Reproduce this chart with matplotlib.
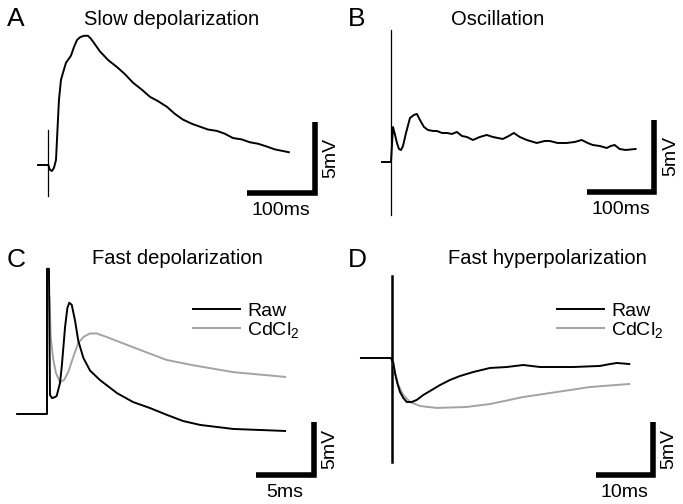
import matplotlib
matplotlib.use("Agg")
import matplotlib.pyplot as plt
import numpy as np

plt.rcParams['font.family'] = ['Liberation Sans', 'DejaVu Sans']
plt.rcParams['mathtext.fontset'] = 'custom'
plt.rcParams['mathtext.rm'] = 'Liberation Sans'
plt.rcParams['mathtext.default'] = 'rm'

# --- data (time in ms, membrane potential in mV, 0 = stimulus / baseline) ---
a_t = [-15.2, -3.4, 0, 2.5, 5.5, 8.4, 11.4, 13.6, 15.8, 18.8, 21.8, 26.2, 30.6, 33.6,
       38, 42.5, 47, 53, 58.8, 63, 67.6, 76.5, 88.4, 101.7, 113.5, 125.4, 138.7, 150.6,
       162.4, 175.7, 187.5, 199.4, 212.8, 224.6, 236.4, 249.8, 261.6, 273.5, 286.8,
       298.6, 310.5, 323.8, 335.6, 356.4]
a_v = [0, 0, 0, -0.35, -0.42, -0.2, 0.35, 2.5, 4.6, 6.0, 6.5, 7.2, 7.5, 7.7,
       8.3, 8.8, 9.0, 9.1, 9.1, 8.9, 8.6, 8.0, 7.4, 6.9, 6.4, 5.8, 5.3, 4.8,
       4.5, 4.1, 3.6, 3.2, 2.9, 2.7, 2.5, 2.4, 2.2, 1.9, 1.8,
       1.6, 1.5, 1.3, 1.1, 0.9]
a_artifact = [2.46, -2.18]

b_t = [-13.4, -1.5, 0, 3.0, 6.0, 8.9, 11.9, 14.9, 17.9, 22.4, 28.3, 34.3, 38.7, 43.2,
       49.2, 55.1, 62.6, 68.5, 76, 83.4, 90.9, 98.3, 105.8, 113.2, 122.2, 132.6, 142.9,
       152, 166.9, 175.8, 183.3, 192.2, 202.6, 217.5, 229.5, 236.9, 248.8, 262.2, 274.2,
       284.6, 293.5, 301, 311.5, 322, 328, 333.8, 341.2, 350, 365]
b_v = [0, 0, 0, 2.45, 1.9, 1.33, 0.91, 0.84, 1.12, 2.03, 3.08, 3.29, 3.36, 2.94,
       2.45, 2.24, 2.17, 2.17, 2.03, 2.03, 1.96, 2.1, 1.82, 1.75, 1.54, 1.75, 1.89,
       1.75, 1.61, 1.82, 2.03, 1.75, 1.54, 1.33, 1.47, 1.47, 1.33, 1.33, 1.4,
       1.54, 1.33, 1.19, 1.12, 0.98, 1.12, 1.19, 0.91, 0.84, 0.91]
b_artifact = [9.2, -3.7]

c_raw_t = [-2.6, 0, 0, 0.17, 0.26, 0.44, 0.7, 0.84, 1.13, 1.28, 1.57, 1.77, 1.94, 2.15,
           2.44, 2.72, 3.16, 3.74, 4.61, 6.09, 7.48, 8.96, 10.44, 11.83, 13.31, 16.18, 20.7]
c_raw_v = [0, 0, 13.7, 13.7, 1.79, 1.5, 1.6, 1.7, 2.92, 4.43, 8.2, 10.0, 10.5, 10.3,
           8.8, 6.9, 5.3, 4.1, 3.2, 1.97, 1.13, 0.56, -0.09, -0.66, -1.03, -1.41, -1.6]
c_cd_t = [0.22, 0.32, 0.55, 0.78, 1.13, 1.48, 1.85, 2.29, 2.72, 3.16, 3.74, 4.32, 5.2,
          7.48, 10.4, 12.7, 16.2, 20.7]
c_cd_v = [11.0, 7.26, 5.1, 3.87, 3.0, 3.2, 3.96, 5.4, 6.7, 7.26, 7.6, 7.6, 7.26,
          6.3, 5.1, 4.6, 3.95, 3.5]

d_raw_t = [-5.5, -0.18, 0.23, 0.53, 0.94, 1.42, 2.0, 2.6, 3.49, 4.37, 5.54, 7.03, 8.5,
           10.27, 12.04, 14.39, 17.35, 20.3, 23.24, 26.2, 32.1, 36.8, 38.6, 39.8, 42.0]
d_raw_v = [0, 0, -0.47, -1.42, -2.36, -3.21, -3.77, -4.15, -4.15, -3.96, -3.49, -3.02,
           -2.55, -2.07, -1.7, -1.32, -0.94, -0.85, -0.66, -0.85, -0.85, -0.75, -0.57,
           -0.47, -0.57]
d_cd_t = [0.23, 0.53, 1.12, 2.0, 3.19, 4.96, 7.9, 13.2, 17.35, 23.24, 29.15, 35.0, 42.0]
d_cd_v = [-0.47, -1.41, -2.55, -3.49, -4.15, -4.53, -4.71, -4.62, -4.34, -3.68, -3.21,
          -2.74, -2.45]
d_artifact = [7.7, -9.8]

titles = ["Slow depolarization", "Oscillation", "Fast depolarization", "Fast hyperpolarization"]
letters = ["A", "B", "C", "D"]
bar_ms = [100, 100, 5, 10]
bar_mv = 5
legend_labels = ["Raw", "CdCl$_2$"]

W, H = 683, 504
fig = plt.figure(figsize=(W / 100, H / 100), dpi=100)
GRAY = '#a3a3a3'


def panel(rect, x0, y0, sx, sy):
    # rect in pixels (left, top, width, height); x0/y0 = pixel of t=0 / V=0
    l, t, w, h = rect
    ax = fig.add_axes([l / W, 1 - (t + h) / H, w / W, h / H])
    ax.set_xlim((l - x0) * sx, (l + w - x0) * sx)
    ax.set_ylim((y0 - (t + h)) * sy, (y0 - t) * sy)
    ax.axis('off')
    return ax


def scalebar(ax, tc, vc, dt, label_t):
    ax.plot([tc - dt, tc, tc], [vc, vc, vc + bar_mv], color='black', lw=4,
            solid_joinstyle='miter', solid_capstyle='butt')
    ax.annotate(label_t, (tc - dt / 2, vc), xytext=(0, -16), textcoords='offset points',
                ha='center', va='baseline', fontsize=14)
    ax.annotate('5mV', (tc, vc + bar_mv / 2), xytext=(15, 0), textcoords='offset points',
                ha='center', va='baseline', rotation=90, rotation_mode='anchor', fontsize=14)


# A
sxA, syA = 100 / 67.5, 5 / 71
axA = panel((0, 0, 341, 240), 48.3, 165, sxA, syA)
axA.plot(a_t, a_v, color='black', lw=1.4)
axA.plot([0, 0], a_artifact, color='black', lw=0.9)
scalebar(axA, (314.5 - 48.3) * sxA, (165 - 193) * syA, bar_ms[0], '100ms')

# B
sxB, syB = 100 / 67, 5 / 71.5
axB = panel((341, 0, 342, 240), 391, 162, sxB, syB)
axB.plot(b_t, b_v, color='black', lw=1.4)
axB.plot([0, 0], b_artifact, color='black', lw=0.9)
scalebar(axB, (654 - 391) * sxB, (162 - 191.5) * syB, bar_ms[1], '100ms')

# C
sxC, syC = 5 / 57.5, 5 / 53
axC = panel((0, 240, 341, 264), 47, 414, sxC, syC)
axC.plot(c_cd_t, c_cd_v, color=GRAY, lw=1.4, label=legend_labels[1])
axC.plot(c_raw_t, c_raw_v, color='black', lw=1.4, label=legend_labels[0])
scalebar(axC, (313.5 - 47) * sxC, (414 - 475) * syC, bar_ms[2], '5ms')

# D
sxD, syD = 10 / 56.5, 5 / 53
axD = panel((341, 240, 342, 264), 392, 358, sxD, syD)
axD.plot([0, 0], d_artifact, color='black', lw=1.8)
axD.plot(d_cd_t, d_cd_v, color=GRAY, lw=1.4, label=legend_labels[1])
axD.plot(d_raw_t, d_raw_v, color='black', lw=1.4, label=legend_labels[0])
scalebar(axD, (652.5 - 392) * sxD, (358 - 475) * syD, bar_ms[3], '10ms')

for ax, x in [(axC, 193), (axD, 557)]:
    h, lab = ax.get_legend_handles_labels()
    ax.legend(h[::-1], lab[::-1], loc='upper left', bbox_to_anchor=(x / W, 1 - 302 / H),
              bbox_transform=fig.transFigure, frameon=False, fontsize=14, borderpad=0,
              borderaxespad=0, handlelength=2.4, handletextpad=0.4, labelspacing=0.0)

# titles and panel letters
for (xc, yb), s in zip([(171.5, 25), (497.5, 25), (177.5, 264), (547, 264)], titles):
    fig.text(xc / W, 1 - yb / H, s, ha='center', va='baseline', fontsize=14.5)
for (xl, yb), s in zip([(7, 26), (348, 26), (7, 267), (348, 267)], letters):
    fig.text(xl / W, 1 - yb / H, s, ha='left', va='baseline', fontsize=19)

fig.savefig('out.png', dpi=100)
